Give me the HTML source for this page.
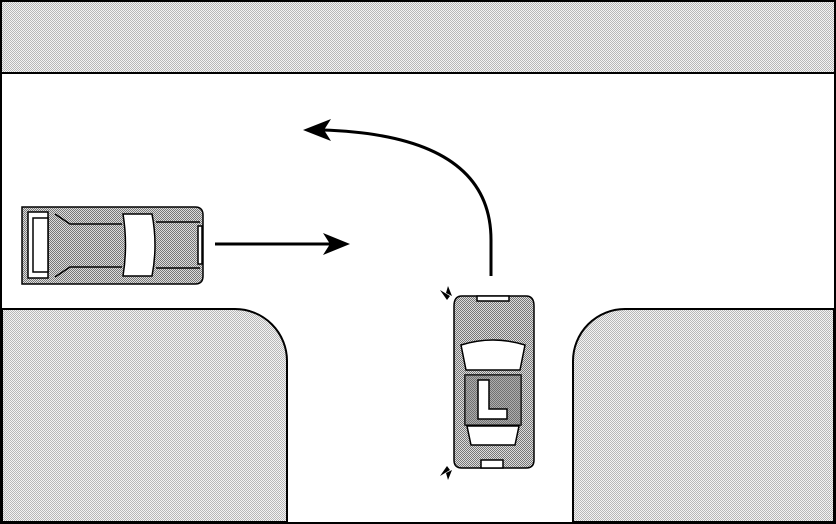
<html><body style="margin:0;background:#fff">
<svg width="836" height="524" viewBox="0 0 836 524" xmlns="http://www.w3.org/2000/svg">
<defs>
<pattern id="d" width="2" height="2" patternUnits="userSpaceOnUse"><rect width="2" height="2" fill="#f4f4f4"/><rect width="1" height="1" fill="#b8b8b8"/><rect x="1" y="1" width="1" height="1" fill="#b8b8b8"/></pattern>
<pattern id="c" width="2" height="2" patternUnits="userSpaceOnUse"><rect width="2" height="2" fill="#ddd"/><rect width="1" height="1" fill="#777"/><rect x="1" y="1" width="1" height="1" fill="#777"/></pattern>
</defs>
<rect x="1" y="1" width="834" height="522" fill="#fff" stroke="#000" stroke-width="2"/>
<rect x="2" y="2" width="832" height="71" fill="url(#d)"/>
<line x1="2" y1="73" x2="834" y2="73" stroke="#000" stroke-width="2"/>
<path d="M2 309 H235 A52 52 0 0 1 287 361 V522 H2Z" fill="url(#d)" stroke="#000" stroke-width="2"/>
<path d="M834 309 H625 A52 52 0 0 0 573 361 V522 H834Z" fill="url(#d)" stroke="#000" stroke-width="2"/>
<!-- left car -->
<g stroke="#000" stroke-width="1.5">
<path d="M22 207 H195 Q203 207 203 215 V276 Q203 284 195 284 H22Z" fill="url(#c)"/>
<path d="M28 212 H48 V278 H28Z" fill="#fff"/>
<path d="M33 218 H48 V272 H33Z" fill="#fff"/>
<path d="M123 214 H152 Q158 245 152 276 H123 Q128 245 123 214Z" fill="#fff"/>
<path d="M55 214 L70 224 H122" fill="none"/><path d="M55 277 L70 267 H122" fill="none"/>
<line x1="156" y1="222" x2="200" y2="222"/><line x1="156" y1="268" x2="200" y2="268"/>
<rect x="198" y="226" width="4" height="38" fill="#fff"/>
</g>
<line x1="215" y1="244" x2="333" y2="244" stroke="#000" stroke-width="3"/>
<path d="M350 244 L323 233 L330 244 L323 255Z" fill="#000"/>
<path d="M491 276 V240 Q491 135 322 130" fill="none" stroke="#000" stroke-width="3"/>
<path d="M303 130 L331 119 L324 130 L331 141Z" fill="#000"/>
<!-- bottom car -->
<g stroke="#000" stroke-width="1.5">
<path d="M462 296 H526 Q534 296 534 306 V460 Q534 468 526 468 H462 Q454 468 454 460 V306 Q454 296 462 296Z" fill="url(#c)"/>
<rect x="477" y="296" width="32" height="5" fill="#fff"/>
<path d="M461 345 Q493 335 525 345 L520 370 H466Z" fill="#fff"/>
<rect x="465" y="375" width="56" height="50" fill="url(#c)"/>
<rect x="465" y="375" width="56" height="50" fill="#666" opacity="0.4" stroke="none"/>
<path d="M478 380 H489 V409 H507 V419 H478Z" fill="#fff"/>
<path d="M467 426 H519 L515 445 H471Z" fill="#fff"/>
<rect x="481" y="460" width="22" height="8" fill="#fff"/>
</g>
<g fill="#000"><path d="M440 290 L450 296 L447 300Z"/><path d="M448 286 L452 296 L446 293Z"/><path d="M440 476 L450 470 L447 466Z"/><path d="M448 480 L452 470 L446 473Z"/></g>
</svg>
</body></html>
